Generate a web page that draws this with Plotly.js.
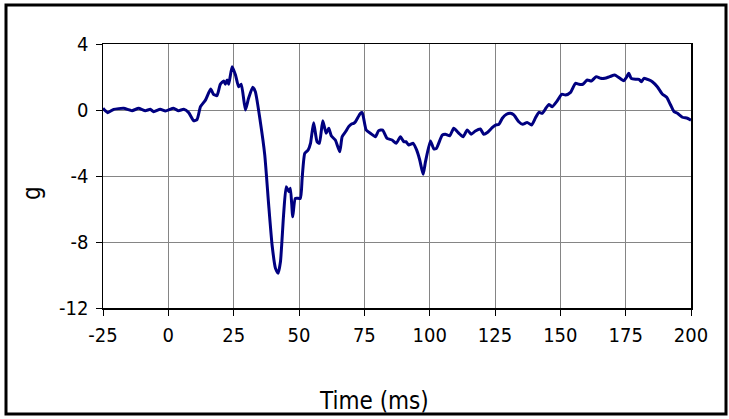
<!DOCTYPE html>
<html>
<head>
<meta charset="utf-8">
<script src="https://cdn.plot.ly/plotly-3.0.1.min.js"></script>
<style>
  html, body { margin: 0; padding: 0; background: #fff; }
  #chart { width: 729px; height: 419px; }
</style>
</head>
<body>
<div id="chart"></div>
<script>
// Time (ms)
const timeMs = [
  -25, -23.2, -20.9, -17.1, -13.9, -11.4, -8.8, -6.9, -5.6, -3.1, -1.1, 2.0, 3.9, 5.9, 7.8, 9.7, 11.0, 12.3, 14.2,
  16.2, 17.3, 18.6, 19.9, 21.2, 21.8, 22.5, 23.1, 24.4, 25.7, 26.9, 27.9, 29.5, 30.7, 32.3, 33.3, 35.2, 36.9,
  38.4, 39.7, 41.0, 42.0, 42.9, 44.1, 45.1, 46.1, 46.7, 47.6, 48.6, 50.5, 51.2, 52.2, 53.5, 54.4, 55.6, 56.9,
  57.8, 59.1, 60.4, 61.4, 62.4, 63.9, 65.6, 66.5, 67.8, 69.0, 70.1, 70.9, 71.6, 73.5, 74.2, 75.7, 77.3, 79.2,
  80.5, 82.0, 83.7, 85.6, 87.2, 88.8, 90.1, 90.9, 92.0, 93.7, 95.0, 96.2, 97.5, 98.4, 100.3, 101.6, 102.6,
  104.8, 106.0, 107.7, 109.2, 111.2, 112.8, 114.4, 115.9, 117.5, 119.4, 120.7, 122.2, 123.9, 125.2, 126.5,
  127.8, 129.4, 130.9, 132.2, 134.1, 135.6, 137.3, 139.0, 140.5, 141.8, 143.1, 144.6, 145.6, 146.9, 148.8,
  150.5, 152.0, 153.9, 155.8, 157.1, 158.6, 160.3, 161.9, 163.7, 165.4, 167.0, 168.9, 170.8, 172.8, 174.3,
  175.3, 176.2, 177.1, 178.8, 180.1, 181.0, 182.0, 183.9, 185.2, 187.1, 189.0, 190.7, 192.2, 193.5, 194.8,
  196.7, 198.6, 200
];
// Acceleration (g)
const accelG = [
  0.1, -0.16, 0.04, 0.1, -0.04, 0.1, -0.04, 0.04, -0.1, 0.04, -0.06, 0.1, -0.04, 0.04, -0.16, -0.65, -0.57, 0.2, 0.6,
  1.27, 0.95, 0.87, 1.56, 1.76, 1.56, 1.82, 1.56, 2.62, 2.12, 1.41, 1.56, 0.0, 0.71, 1.38, 1.11, -0.71, -2.73,
  -5.76, -8.18, -9.6, -9.9, -9.2, -6.36, -4.65, -4.95, -4.74, -6.47, -5.35, -5.35, -4.14, -2.63, -2.42, -2.02, -0.77, -1.92,
  -2.02, -0.65, -1.41, -1.11, -1.58, -1.82, -2.53, -1.62, -1.32, -1.01, -0.85, -0.81, -0.71, -0.2, -0.16, -1.21, -1.41, -1.62,
  -1.25, -1.21, -1.72, -1.82, -2.02, -1.62, -1.92, -1.92, -2.12, -2.02, -2.42, -3.03, -3.9, -3.13, -1.88, -2.36, -2.32,
  -1.52, -1.47, -1.56, -1.11, -1.41, -1.62, -1.21, -1.47, -1.27, -1.15, -1.47, -1.35, -1.07, -0.91, -0.87,
  -0.5, -0.26, -0.2, -0.3, -0.71, -0.87, -0.75, -0.91, -0.47, -0.14, -0.2, 0.14, 0.34, 0.2, 0.55,
  0.95, 0.91, 1.07, 1.62, 1.56, 1.56, 1.82, 1.76, 2.02, 1.92, 1.92, 2.02, 2.12, 1.92, 1.77,
  1.98, 2.22, 1.92, 1.86, 1.86, 1.71, 1.92, 1.82, 1.71, 1.41, 0.97, 0.77, 0.3, -0.1, -0.2,
  -0.44, -0.5, -0.62
];
const xTicks = [-25, 0, 25, 50, 75, 100, 125, 150, 175, 200];
const yTicks = [4, 0, -4, -8, -12];
const xTitle = 'Time (ms)';
const yTitle = 'g';

const fontFam = '"Liberation Sans Narrow", "Arial Narrow", "DejaVu Sans Condensed", sans-serif';

const trace = {
  x: timeMs, y: accelG, type: 'scatter', mode: 'lines',
  line: { color: '#000080', width: 3, shape: 'spline', smoothing: 0.5 },
  hoverinfo: 'none'
};

// plot area in pixels: x 103..691, y 44..308
const L = 103, R = 691, T = 44, B = 308, W = 729, H = 419;
const px = v => (v - L) / (R - L);
const py = v => (B - v) / (B - T);

const layout = {
  width: W, height: H,
  margin: { l: L, r: W - R, t: T, b: H - B, pad: 0 },
  paper_bgcolor: '#ffffff', plot_bgcolor: '#ffffff',
  showlegend: false,
  font: { family: fontFam, color: '#000', size: 20 },
  xaxis: {
    range: [-25, 200], tickvals: xTicks, ticktext: xTicks.map(String),
    showgrid: true, gridcolor: '#858585', gridwidth: 1,
    showline: true, linecolor: '#000', linewidth: 1.5, mirror: true,
    ticks: 'outside', ticklen: 6, tickcolor: '#000', tickwidth: 1,
    tickfont: { family: fontFam, size: 20, color: '#000' },
    ticklabelstandoff: 2,
    zeroline: false, fixedrange: true
  },
  yaxis: {
    range: [-12, 4], tickvals: yTicks, ticktext: yTicks.map(String),
    showgrid: true, gridcolor: '#858585', gridwidth: 1,
    showline: true, linecolor: '#000', linewidth: 1.5, mirror: true,
    ticks: 'outside', ticklen: 6, tickcolor: '#000', tickwidth: 1,
    tickfont: { family: fontFam, size: 20, color: '#000' },
    ticklabelstandoff: 3,
    zeroline: false, fixedrange: true
  },
  annotations: [
    { text: xTitle, xref: 'paper', yref: 'paper', x: px(374), y: py(401),
      xanchor: 'center', yanchor: 'middle', showarrow: false,
      font: { family: fontFam, size: 24, color: '#000' } },
    { text: yTitle, xref: 'paper', yref: 'paper', x: px(32), y: py(193),
      xanchor: 'center', yanchor: 'middle', showarrow: false, textangle: -90,
      font: { family: fontFam, size: 24, color: '#000' } }
  ],
  shapes: [
    { type: 'rect', xref: 'paper', yref: 'paper',
      x0: px(6), x1: px(726), y0: py(414), y1: py(5),
      line: { color: '#000', width: 3 }, fillcolor: 'rgba(0,0,0,0)', layer: 'above' }
  ]
};

Plotly.newPlot('chart', [trace], layout, { staticPlot: true, displayModeBar: false });
</script>
</body>
</html>
